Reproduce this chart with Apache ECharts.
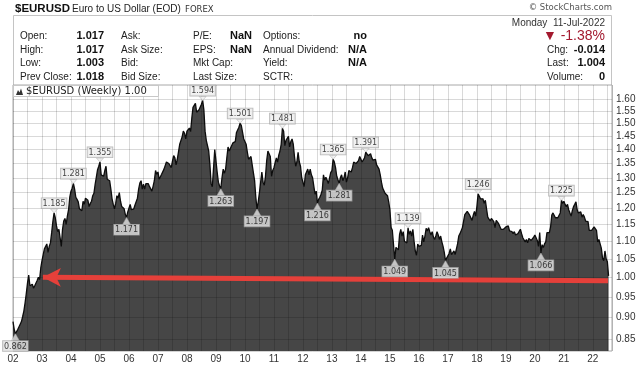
<!DOCTYPE html>
<html><head><meta charset="utf-8">
<script src="https://cdn.jsdelivr.net/npm/echarts@6/dist/echarts.min.js"></script>
<style>html,body{margin:0;padding:0;background:#fff}#c{width:640px;height:367px}</style>
</head><body><div id="c"></div>
<script>
// Semi-monthly closes (1st and 15th of each month), EUR/USD
const firstYear = 2002;
const eur2002 = [0.890,0.872,0.862,0.866,0.872,0.878,0.876,0.890,0.902,0.915,0.935,0.958,0.985,1.006,0.978,0.975,0.982,0.972,0.978,0.980,0.992,1.000,0.994,1.025];
const eur2003 = [1.045,1.062,1.078,1.080,1.092,1.068,1.085,1.095,1.125,1.158,1.185,1.170,1.145,1.128,1.135,1.110,1.085,1.135,1.160,1.168,1.150,1.175,1.195,1.235];
const eur2004 = [1.255,1.265,1.281,1.262,1.235,1.228,1.220,1.198,1.200,1.192,1.222,1.212,1.232,1.238,1.225,1.205,1.215,1.222,1.240,1.248,1.278,1.302,1.328,1.340];
const eur2005 = [1.355,1.310,1.305,1.305,1.325,1.340,1.295,1.300,1.290,1.262,1.230,1.212,1.198,1.215,1.240,1.232,1.250,1.222,1.205,1.208,1.198,1.180,1.171,1.188];
const eur2006 = [1.200,1.212,1.195,1.192,1.198,1.210,1.212,1.232,1.262,1.282,1.290,1.262,1.278,1.262,1.280,1.285,1.280,1.270,1.265,1.255,1.272,1.290,1.325,1.312];
const eur2007 = [1.320,1.295,1.300,1.312,1.318,1.330,1.335,1.355,1.358,1.350,1.345,1.335,1.358,1.378,1.370,1.345,1.365,1.392,1.420,1.422,1.448,1.470,1.462,1.440];
const eur2008 = [1.470,1.470,1.482,1.468,1.520,1.565,1.560,1.582,1.545,1.552,1.555,1.548,1.578,1.594,1.555,1.470,1.435,1.430,1.395,1.345,1.280,1.270,1.275,1.400];
const eur2009 = [1.395,1.320,1.285,1.272,1.263,1.300,1.330,1.315,1.330,1.370,1.410,1.395,1.405,1.410,1.425,1.420,1.430,1.465,1.468,1.485,1.501,1.492,1.487,1.440];
const eur2010 = [1.435,1.420,1.390,1.365,1.360,1.375,1.345,1.350,1.290,1.235,1.197,1.220,1.250,1.285,1.320,1.285,1.275,1.305,1.360,1.395,1.390,1.375,1.305,1.325];
const eur2011 = [1.335,1.340,1.370,1.355,1.380,1.395,1.420,1.481,1.470,1.415,1.435,1.430,1.450,1.410,1.430,1.440,1.420,1.375,1.340,1.355,1.390,1.355,1.340,1.300];
const eur2012 = [1.295,1.270,1.310,1.315,1.330,1.310,1.330,1.310,1.300,1.272,1.245,1.255,1.216,1.228,1.235,1.245,1.258,1.310,1.292,1.302,1.292,1.280,1.285,1.318];
const eur2013 = [1.325,1.365,1.355,1.335,1.305,1.300,1.281,1.300,1.310,1.290,1.300,1.320,1.285,1.300,1.325,1.330,1.320,1.335,1.355,1.362,1.350,1.348,1.360,1.375];
const eur2014 = [1.370,1.355,1.350,1.370,1.391,1.385,1.378,1.382,1.385,1.370,1.362,1.358,1.365,1.345,1.340,1.330,1.310,1.285,1.265,1.270,1.248,1.245,1.240,1.220];
const eur2015 = [1.195,1.140,1.132,1.135,1.049,1.082,1.085,1.075,1.120,1.135,1.115,1.128,1.100,1.095,1.095,1.139,1.120,1.130,1.115,1.135,1.100,1.072,1.060,1.092];
const eur2016 = [1.085,1.090,1.088,1.118,1.098,1.115,1.138,1.130,1.140,1.128,1.118,1.128,1.112,1.105,1.115,1.128,1.118,1.105,1.115,1.098,1.085,1.068,1.045,1.052];
const eur2017 = [1.052,1.065,1.078,1.062,1.058,1.072,1.062,1.065,1.092,1.115,1.122,1.118,1.140,1.145,1.180,1.175,1.190,1.195,1.178,1.180,1.162,1.178,1.190,1.175];
const eur2018 = [1.205,1.246,1.240,1.230,1.232,1.230,1.215,1.225,1.198,1.172,1.168,1.160,1.168,1.168,1.158,1.140,1.162,1.165,1.152,1.150,1.135,1.140,1.135,1.138];
const eur2019 = [1.142,1.145,1.145,1.130,1.135,1.128,1.122,1.128,1.118,1.115,1.122,1.120,1.135,1.122,1.110,1.110,1.098,1.105,1.095,1.108,1.112,1.102,1.100,1.112];
const eur2020 = [1.118,1.110,1.102,1.085,1.125,1.066,1.090,1.082,1.092,1.098,1.125,1.122,1.125,1.142,1.178,1.185,1.188,1.170,1.168,1.170,1.165,1.185,1.225,1.215];
const eur2021 = [1.222,1.212,1.205,1.212,1.195,1.192,1.175,1.192,1.205,1.212,1.220,1.195,1.185,1.180,1.188,1.172,1.180,1.172,1.160,1.162,1.158,1.132,1.130,1.132];
const eur2022 = [1.135,1.142,1.140,1.132,1.098,1.105,1.102,1.080,1.052,1.045,1.072,1.050,1.042,1.004];
const yearSeries = [eur2002,eur2003,eur2004,eur2005,eur2006,eur2007,eur2008,eur2009,eur2010,eur2011,eur2012,eur2013,eur2014,eur2015,eur2016,eur2017,eur2018,eur2019,eur2020,eur2021,eur2022];

// Annotated highs / lows: [year, semi-month index]
const peakRefs = [[2003,10],[2004,2],[2005,0],[2008,13],[2009,20],[2011,7],[2013,1],[2014,4],[2015,15],[2018,1],[2020,22]];
const troughRefs = [[2002,2],[2005,22],[2009,4],[2010,10],[2012,12],[2013,6],[2015,4],[2016,22],[2020,5]];

// Red arrow annotation (decimal year, price)
const arrowFrom = [2003.03, 1.000];
const arrowTo = [2022.52, 0.991];

const yTicks = [0.85,0.90,0.95,1.00,1.05,1.10,1.15,1.20,1.25,1.30,1.35,1.40,1.45,1.50,1.55,1.60];
const xMin = 2002, xMax = 2022.66;

const lineData = [];
yearSeries.forEach((arr, k) => arr.forEach((v, i) => lineData.push([firstYear + k + i / 24, v])));
const refPoint = r => [r[0] + r[1] / 24, yearSeries[r[0] - firstYear][r[1]]];
const peakData = peakRefs.map(refPoint);
const troughData = troughRefs.map(refPoint);

const ARIAL = '"Liberation Sans", Arial, sans-serif';
const VERD = '"DejaVu Sans", Verdana, sans-serif';
function txt(text, x, y, opt) {
  opt = opt || {};
  return { type: 'text', x: x, y: y, z: 100, silent: true,
    style: { text: text, fill: opt.fill || '#222', align: opt.align || 'left', verticalAlign: 'middle',
      font: (opt.bold ? 'bold ' : '') + (opt.size || 10) + 'px ' + (opt.family || ARIAL) } };
}
const rows = [36, 50, 63, 77];
const graphics = [
  { type: 'rect', z: -10, silent: true, shape: { x: 13.5, y: 15.5, width: 598, height: 70 }, style: { fill: '#fff', stroke: '#c4c4c4', lineWidth: 1 } },
  txt('$EURUSD', 15, 9, { bold: true, size: 11.5, fill: '#111' }),
  txt('Euro to US Dollar (EOD)', 72, 9, { size: 10 }),
  txt('FOREX', 185, 9.5, { size: 8.5, family: VERD, fill: '#333' }),
  txt('\u00A9 StockCharts.com', 612, 8, { size: 8.5, family: VERD, fill: '#555', align: 'right' }),
  txt('Open:', 20, rows[0]), txt('High:', 20, rows[1]), txt('Low:', 20, rows[2]), txt('Prev Close:', 20, rows[3]),
  txt('1.017', 104, rows[0], { bold: true, size: 11, align: 'right', fill: '#111' }),
  txt('1.017', 104, rows[1], { bold: true, size: 11, align: 'right', fill: '#111' }),
  txt('1.003', 104, rows[2], { bold: true, size: 11, align: 'right', fill: '#111' }),
  txt('1.018', 104, rows[3], { bold: true, size: 11, align: 'right', fill: '#111' }),
  txt('Ask:', 121, rows[0]), txt('Ask Size:', 121, rows[1]), txt('Bid:', 121, rows[2]), txt('Bid Size:', 121, rows[3]),
  txt('P/E:', 193, rows[0]), txt('EPS:', 193, rows[1]), txt('Mkt Cap:', 193, rows[2]), txt('Last Size:', 193, rows[3]),
  txt('NaN', 252, rows[0], { bold: true, size: 11, align: 'right', fill: '#111' }),
  txt('NaN', 252, rows[1], { bold: true, size: 11, align: 'right', fill: '#111' }),
  txt('Options:', 263, rows[0]), txt('Annual Dividend:', 263, rows[1]), txt('Yield:', 263, rows[2]), txt('SCTR:', 263, rows[3]),
  txt('no', 367, rows[0], { bold: true, size: 11, align: 'right', fill: '#111' }),
  txt('N/A', 367, rows[1], { bold: true, size: 11, align: 'right', fill: '#111' }),
  txt('N/A', 367, rows[2], { bold: true, size: 11, align: 'right', fill: '#111' }),
  txt('Monday  11-Jul-2022', 605, 23, { align: 'right', fill: '#333' }),
  txt('\u25BC -1.38%', 605, 36, { size: 14, align: 'right', fill: '#a3192e' }),
  txt('Chg:', 547, rows[1]), txt('-0.014', 605, rows[1], { bold: true, size: 11, align: 'right', fill: '#111' }),
  txt('Last:', 547, rows[2]), txt('1.004', 605, rows[2], { bold: true, size: 11, align: 'right', fill: '#111' }),
  txt('Volume:', 547, rows[3]), txt('0', 605, rows[3], { bold: true, size: 11, align: 'right', fill: '#111' }),
  { type: 'rect', z: 100, silent: true, shape: { x: 13.5, y: 85.5, width: 145, height: 11 }, style: { fill: '#fff', stroke: '#c8c8c8', lineWidth: 1 } },
  { type: 'polygon', z: 101, silent: true, shape: { points: [[16, 95], [18, 90], [19.5, 92.5], [21, 88.5], [23, 95]] }, style: { fill: '#333' } },
  txt('$EURUSD (Weekly) 1.00', 26, 91.5, { size: 10, family: VERD, fill: '#222' })
];

const labelBase = { show: true, fontSize: 8, fontFamily: VERD, color: '#111', backgroundColor: '#efefef',
  borderColor: '#a8a8a8', borderWidth: 0.8, padding: [1, 1, 0, 1], lineHeight: 9,
  formatter: p => p.value[1].toFixed(3) };

const chart = echarts.init(document.getElementById('c'), null, { renderer: 'canvas' });
chart.setOption({
  animation: false,
  grid: { left: 13, right: 28, top: 85, bottom: 16, show: true, borderColor: '#a8a8a8', borderWidth: 1, backgroundColor: '#fff' },
  graphic: graphics,
  xAxis: {
    type: 'value', min: xMin, max: xMax, interval: 0.5, z: 5,
    axisLine: { show: false }, axisTick: { show: false },
    splitLine: { show: true, lineStyle: { color: 'rgba(0,0,0,0.15)', width: 1 } },
    axisLabel: { margin: 3, fontSize: 10, color: '#333', fontFamily: ARIAL,
      formatter: v => Number.isInteger(v) ? String(v % 100).padStart(2, '0') : '' }
  },
  yAxis: {
    type: 'log', logBase: 10, min: 0.8236, max: 1.66, position: 'right', z: 5,
    axisLine: { show: false },
    axisTick: { show: false, customValues: yTicks },
    axisLabel: { customValues: yTicks, margin: 4, fontSize: 10, color: '#333', fontFamily: ARIAL, formatter: v => Number(v).toFixed(2) },
    splitLine: { show: true, lineStyle: { color: 'rgba(0,0,0,0.15)', width: 1 } }
  },
  series: [
    {
      type: 'line', data: lineData, symbol: 'none', showSymbol: false, z: 2,
      lineStyle: { color: '#0d0d0d', width: 1.3 },
      areaStyle: { color: '#464646', opacity: 1, origin: 'start' },
      markLine: {
        silent: true, z: 8, animation: false,
        symbol: ['arrow', 'none'], symbolSize: [14, 18],
        lineStyle: { color: '#e5403a', width: 5, type: 'solid', opacity: 1 },
        label: { show: false },
        data: [[{ coord: arrowFrom }, { coord: arrowTo }]]
      }
    },
    {
      type: 'scatter', data: peakData, z: 10, symbol: 'triangle', symbolSize: [7, 4], symbolRotate: 180, symbolOffset: [0, -2],
      itemStyle: { color: '#efefef', borderColor: '#a8a8a8', borderWidth: 0.6 },
      label: Object.assign({}, labelBase, { position: 'top', distance: 0.5 })
    },
    {
      type: 'scatter', data: troughData, z: 10, symbol: 'triangle', symbolSize: [8, 7], symbolOffset: [0, 3.5],
      itemStyle: { color: '#e4e4e4', borderColor: '#a8a8a8', borderWidth: 0.6 },
      label: Object.assign({}, labelBase, { position: 'bottom', distance: 0, backgroundColor: '#e4e4e4' })
    }
  ]
});
</script></body></html>
